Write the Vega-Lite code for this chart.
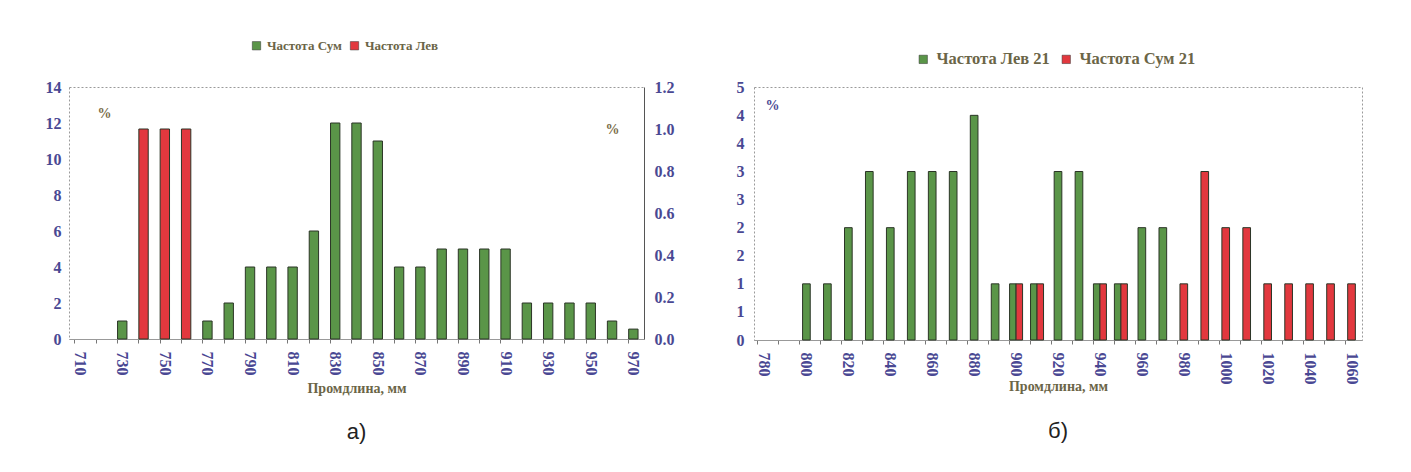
{
  "$schema": "https://vega.github.io/schema/vega-lite/v6.json",
  "background": "white",
  "padding": {"left": 44, "top": 38, "right": 10, "bottom": 5},
  "spacing": 60,
  "datasets": {
    "a": [
      {"x": 730, "series": "Частота Сум", "value": 1},
      {"x": 770, "series": "Частота Сум", "value": 1},
      {"x": 780, "series": "Частота Сум", "value": 2},
      {"x": 790, "series": "Частота Сум", "value": 4},
      {"x": 800, "series": "Частота Сум", "value": 4},
      {"x": 810, "series": "Частота Сум", "value": 4},
      {"x": 820, "series": "Частота Сум", "value": 6},
      {"x": 830, "series": "Частота Сум", "value": 12},
      {"x": 840, "series": "Частота Сум", "value": 12},
      {"x": 850, "series": "Частота Сум", "value": 11},
      {"x": 860, "series": "Частота Сум", "value": 4},
      {"x": 870, "series": "Частота Сум", "value": 4},
      {"x": 880, "series": "Частота Сум", "value": 5},
      {"x": 890, "series": "Частота Сум", "value": 5},
      {"x": 900, "series": "Частота Сум", "value": 5},
      {"x": 910, "series": "Частота Сум", "value": 5},
      {"x": 920, "series": "Частота Сум", "value": 2},
      {"x": 930, "series": "Частота Сум", "value": 2},
      {"x": 940, "series": "Частота Сум", "value": 2},
      {"x": 950, "series": "Частота Сум", "value": 2},
      {"x": 960, "series": "Частота Сум", "value": 1},
      {"x": 970, "series": "Частота Сум", "value": 0.55},
      {"x": 740, "series": "Частота Лев", "value": 1},
      {"x": 750, "series": "Частота Лев", "value": 1},
      {"x": 760, "series": "Частота Лев", "value": 1}
    ],
    "b": [
      {"x": 800, "series": "Частота Лев 21", "value": 1.11},
      {"x": 810, "series": "Частота Лев 21", "value": 1.11},
      {"x": 820, "series": "Частота Лев 21", "value": 2.22},
      {"x": 830, "series": "Частота Лев 21", "value": 3.33},
      {"x": 840, "series": "Частота Лев 21", "value": 2.22},
      {"x": 850, "series": "Частота Лев 21", "value": 3.33},
      {"x": 860, "series": "Частота Лев 21", "value": 3.33},
      {"x": 870, "series": "Частота Лев 21", "value": 3.33},
      {"x": 880, "series": "Частота Лев 21", "value": 4.44},
      {"x": 890, "series": "Частота Лев 21", "value": 1.11},
      {"x": 900, "series": "Частота Лев 21", "value": 1.11},
      {"x": 910, "series": "Частота Лев 21", "value": 1.11},
      {"x": 920, "series": "Частота Лев 21", "value": 3.33},
      {"x": 930, "series": "Частота Лев 21", "value": 3.33},
      {"x": 940, "series": "Частота Лев 21", "value": 1.11},
      {"x": 950, "series": "Частота Лев 21", "value": 1.11},
      {"x": 960, "series": "Частота Лев 21", "value": 2.22},
      {"x": 970, "series": "Частота Лев 21", "value": 2.22},
      {"x": 900, "series": "Частота Сум 21", "value": 1.11},
      {"x": 910, "series": "Частота Сум 21", "value": 1.11},
      {"x": 940, "series": "Частота Сум 21", "value": 1.11},
      {"x": 950, "series": "Частота Сум 21", "value": 1.11},
      {"x": 980, "series": "Частота Сум 21", "value": 1.11},
      {"x": 990, "series": "Частота Сум 21", "value": 3.33},
      {"x": 1000, "series": "Частота Сум 21", "value": 2.22},
      {"x": 1010, "series": "Частота Сум 21", "value": 2.22},
      {"x": 1020, "series": "Частота Сум 21", "value": 1.11},
      {"x": 1030, "series": "Частота Сум 21", "value": 1.11},
      {"x": 1040, "series": "Частота Сум 21", "value": 1.11},
      {"x": 1050, "series": "Частота Сум 21", "value": 1.11},
      {"x": 1060, "series": "Частота Сум 21", "value": 1.11}
    ]
  },
  "hconcat": [
    {
      "width": 575,
      "height": 252,
      "data": {"name": "a"},
      "title": {"text": "а)", "offset": 27},
      "encoding": {
        "x": {
          "field": "x", "type": "ordinal",
          "scale": {"domain": [710,720,730,740,750,760,770,780,790,800,810,820,830,840,850,860,870,880,890,900,910,920,930,940,950,960,970], "paddingInner": 0.56, "paddingOuter": 0.28},
          "axis": {"title": "Промдлина, мм", "labelExpr": "(datum.value - 710) % 20 == 0 ? datum.label : ''"}
        },
        "color": {
          "field": "series", "type": "nominal",
          "scale": {"domain": ["Частота Сум", "Частота Лев"], "range": ["#5a9548", "#e2383e"]},
          "legend": {"orient": "none", "legendX": 181, "legendY": -48, "direction": "horizontal", "title": null, "labelFontSize": 13}
        }
      },
      "layer": [
        {
          "transform": [{"filter": "datum.series == 'Частота Сум'"}],
          "mark": {"type": "bar", "stroke": "#2b3526", "strokeWidth": 1},
          "encoding": {
            "y": {"field": "value", "type": "quantitative", "scale": {"domain": [0, 14]},
              "axis": {"orient": "left", "values": [0,2,4,6,8,10,12,14], "domain": false, "ticks": false, "labelPadding": 8,
                "title": "%", "titleAngle": 0, "titleX": 35, "titleY": 26, "titleAlign": "center", "titleBaseline": "middle", "titleColor": "#7a6c48", "titleFontWeight": "bold", "titleFontSize": 14}}
          }
        },
        {
          "transform": [{"filter": "datum.series == 'Частота Лев'"}],
          "mark": {"type": "bar", "stroke": "#2b3526", "strokeWidth": 1},
          "encoding": {
            "y": {"field": "value", "type": "quantitative", "scale": {"domain": [0, 1.2]},
              "axis": {"orient": "right", "values": [0,0.2,0.4,0.6,0.8,1.0,1.2], "format": ".1f", "domain": true, "domainColor": "#555555", "ticks": false, "labelPadding": 10,
                "title": "%", "titleAngle": 0, "titleX": -32, "titleY": 42, "titleAlign": "center", "titleBaseline": "middle", "titleColor": "#7a6c48", "titleFontWeight": "bold", "titleFontSize": 14}}
          }
        }
      ],
      "resolve": {"scale": {"y": "independent"}}
    },
    {
      "width": 608,
      "height": 253,
      "data": {"name": "b"},
      "title": {"text": "б)", "offset": 28},
      "transform": [{"joinaggregate": [{"op": "count", "as": "n"}], "groupby": ["x"]}],
      "encoding": {
        "x": {
          "field": "x", "type": "ordinal",
          "scale": {"domain": [780,790,800,810,820,830,840,850,860,870,880,890,900,910,920,930,940,950,960,970,980,990,1000,1010,1020,1030,1040,1050,1060], "paddingInner": 0.38, "paddingOuter": 0.19},
          "axis": {"title": "Промдлина, мм", "titleY": 46, "titleBaseline": "middle", "labelExpr": "(datum.value - 780) % 20 == 0 ? datum.label : ''"}
        },
        "y": {"field": "value", "type": "quantitative", "scale": {"domain": [0, 5]},
          "axis": {"orient": "left", "values": [0,0.5556,1.1111,1.6667,2.2222,2.7778,3.3333,3.8889,4.4444,5], "format": ".0f", "domain": false, "ticks": false, "labelPadding": 10,
            "title": "%", "titleAngle": 0, "titleX": 18, "titleY": 18, "titleAlign": "center", "titleBaseline": "middle", "titleColor": "#4a4893", "titleFontWeight": "bold", "titleFontSize": 14}},
        "color": {
          "field": "series", "type": "nominal",
          "scale": {"domain": ["Частота Лев 21", "Частота Сум 21"], "range": ["#5a9548", "#e2383e"]},
          "legend": {"orient": "none", "legendX": 161, "legendY": -36, "direction": "horizontal", "title": null, "labelFontSize": 16.5, "columnPadding": 8, "labelOffset": 5}
        }
      },
      "layer": [
        {
          "transform": [{"filter": "datum.n == 1"}],
          "mark": {"type": "bar", "stroke": "#2b3526", "strokeWidth": 1, "width": {"band": 0.59}}
        },
        {
          "transform": [{"filter": "datum.n == 2"}],
          "mark": {"type": "bar", "stroke": "#2b3526", "strokeWidth": 1},
          "encoding": {
            "xOffset": {"field": "series", "type": "nominal", "scale": {"domain": ["Частота Лев 21", "Частота Сум 21"], "paddingInner": 0, "paddingOuter": 0}}
          }
        }
      ]
    }
  ],
  "resolve": {"scale": {"color": "independent"}},
  "config": {
    "font": "Liberation Serif",
    "view": {"stroke": "#9a9a9a", "strokeDash": [2, 2], "strokeWidth": 1},
    "axis": {"grid": false, "labelFont": "Liberation Serif", "labelFontWeight": "bold", "labelFontSize": 16, "labelColor": "#4a4893", "titleFont": "Liberation Serif", "titleColor": "#6b6547", "titleFontWeight": "bold", "titleFontSize": 14},
    "axisX": {"labelAngle": 90, "labelAlign": "left", "labelBaseline": "middle", "labelOverlap": false, "bandPosition": 0, "tickColor": "#777777", "tickSize": 4, "domainColor": "#999999", "labelPadding": 8, "titlePadding": 6},
    "legend": {"labelFont": "Liberation Serif", "labelFontSize": 13, "labelFontWeight": "bold", "labelColor": "#6b6547", "symbolType": "square", "symbolSize": 70, "symbolStrokeColor": "#333333", "symbolStrokeWidth": 0.5, "columnPadding": 6, "labelOffset": 4},
    "title": {"orient": "bottom", "anchor": "middle", "font": "Liberation Sans", "fontSize": 22, "fontWeight": "normal", "color": "#222222"}
  }
}
